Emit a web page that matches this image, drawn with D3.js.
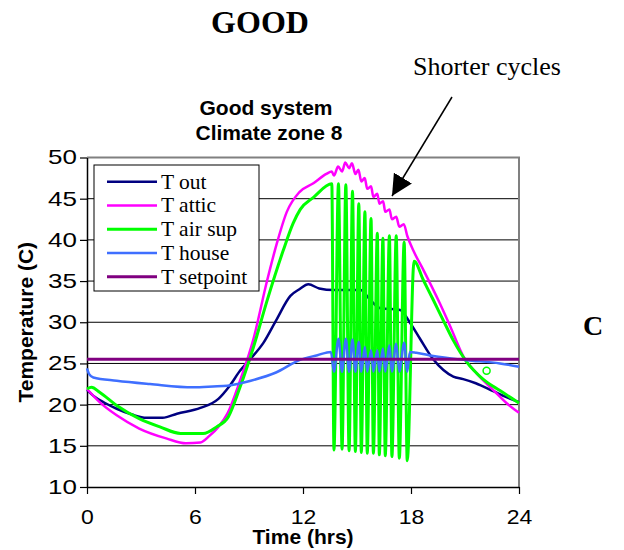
<!DOCTYPE html>
<html>
<head>
<meta charset="utf-8">
<script src="https://cdn.jsdelivr.net/npm/d3@7"></script>
<style>
  body { margin: 0; background: #fff; }
  svg { display: block; }
</style>
</head>
<body>
<svg id="chart" width="624" height="550"></svg>
<script>
// Hourly temperature traces, [hour, °C]
const tOut = [[0,21.8],[0.4,21.0],[1.0,20.2],[1.65,19.5],[2.5,18.8],[3.3,18.4],[4.2,18.4],[5.0,18.9],[6.3,19.6],[7.3,20.7],[7.9,22.2],[8.5,24.1],[9.06,25.5],[9.8,27.5],[10.5,30.2],[11.3,33.2],[11.8,34.0],[12.3,34.6],[12.9,34.1],[13.7,33.9],[15.2,33.9],[15.7,32.8],[16.3,31.7],[17.4,31.5],[17.9,30.1],[18.5,28.0],[19.2,25.6],[19.8,24.2],[20.35,23.4],[20.9,23.1],[21.6,22.6],[22.6,21.6],[23.3,20.9],[24,20.3]];

const tAttic = [[0,21.9],[0.7,20.3],[1.65,18.7],[2.9,17.1],[4.4,15.9],[5.5,15.3],[6.3,15.4],[6.8,16.2],[7.3,17.3],[7.8,18.9],[8.5,22.9],[9.25,28.0],[10.0,35.0],[10.55,39.6],[11.1,43.4],[11.8,45.8],[12.6,46.9],[13.3,48.0],[13.6,48.3],
  [13.72,47.8],[13.95,48.9],[14.17,48.3],[14.35,49.4],[14.56,48.7],[14.72,49.3],[14.91,48.0],[15.08,48.5],[15.24,47.1],[15.43,47.5],[15.57,46.2],[15.78,46.5],[15.91,45.2],[16.13,45.6],[16.24,44.4],[16.45,44.7],[16.57,43.4],[16.8,43.7],[16.94,42.5],[17.18,42.8],[17.35,41.6],[17.6,41.9],[17.79,40.5],
  [18.13,38.7],[18.7,36.3],[19.6,32.3],[20.2,29.4],[20.9,25.9],[21.65,23.8],[22.6,21.7],[23.3,20.2],[24,19.0]];

const tAirSup = [[0,21.9],[0.25,22.1],[0.7,21.5],[1.65,19.9],[2.9,18.3],[4.05,17.3],[5.2,16.5],[6.45,16.5],[7.2,17.3],[7.85,18.5],[8.5,22.1],[9.25,27.0],[10.0,32.6],[10.9,38.7],[11.45,42.0],[11.85,43.7],[12.6,45.2],[13.6,46.8],
  [13.72,14.5],[13.97,46.8],[14.17,14.6],[14.38,46.7],[14.56,14.4],[14.75,45.9],[14.91,14.3],[15.1,44.4],[15.24,14.2],[15.44,43.4],[15.57,14.1],[15.78,42.6],[15.91,14.1],[16.13,40.8],[16.24,13.9],[16.44,40.2],[16.57,13.8],[16.8,40.5],[16.94,13.7],[17.18,40.5],[17.35,13.5],[17.62,39.7],[17.79,13.2],
  [18.17,37.4],[18.69,35.1],[19.24,32.7],[19.8,30.2],[20.35,27.8],[21.09,25.2],[22.0,23.1],[22.94,21.7],[24,20.2]];

const tAirSupMarker = [[22.2,24.1]];

const tHouse = [[0,24.4],[0.12,23.7],[0.35,23.3],[1.65,22.9],[3.5,22.5],[5.9,22.1],[7.0,22.2],[7.8,22.3],[9.1,22.9],[10.5,23.9],[11.8,25.4],[12.8,26.0],[13.55,26.4],
  [13.72,24.0],[13.97,28.0],[14.17,24.0],[14.38,28.0],[14.56,24.0],[14.75,27.9],[14.91,24.0],[15.1,27.6],[15.24,24.0],[15.44,27.0],[15.57,24.0],[15.78,26.6],[15.91,24.0],[16.13,26.6],[16.24,24.0],[16.44,26.8],[16.57,24.0],[16.8,27.2],[16.94,24.0],[17.18,27.4],[17.35,24.0],[17.62,27.5],[17.79,24.0],
  [17.94,26.4],[18.3,26.3],[19.24,25.9],[21.09,25.4],[22.94,25.0],[24,24.6]];

const tSetpoint = [[0,25.5],[24,25.5]];

const seriesNames = ["T out", "T attic", "T air sup", "T house", "T setpoint"];
const seriesColors = ["#000080", "#ff00ff", "#00ff00", "#3f6fff", "#800080"];
const seriesWidths = [2.5, 2.5, 3, 2.5, 3];
const seriesData = [tOut, tAttic, tAirSup, tHouse, tSetpoint];

const hourTicks = [0, 6, 12, 18, 24];
const tempTicks = [10, 15, 20, 25, 30, 35, 40, 45, 50];

const svg = d3.select("#chart");
const x = d3.scaleLinear().domain([0, 24]).range([87, 519]);
const y = d3.scaleLinear().domain([10, 50]).range([487, 157.5]);

// horizontal gridlines
svg.append("g")
  .selectAll("line")
  .data(tempTicks.filter(d => d > 10 && d < 50))
  .join("line")
  .attr("x1", x(0)).attr("x2", x(24))
  .attr("y1", d => y(d)).attr("y2", d => y(d))
  .attr("stroke", "#000").attr("stroke-width", 1);

// plot frame (top and right)
svg.append("path")
  .attr("d", `M${x(0)},${y(50)}H${x(24)}V${y(10)}`)
  .attr("fill", "none").attr("stroke", "#808080").attr("stroke-width", 2);

// axes
const yAxis = svg.append("g")
  .attr("transform", `translate(${x(0)},0)`)
  .call(d3.axisLeft(y).tickValues(tempTicks).tickSize(7).tickSizeOuter(0).tickPadding(9));
const xAxis = svg.append("g")
  .attr("transform", `translate(0,${y(10)})`)
  .call(d3.axisBottom(x).tickValues(hourTicks).tickSize(7).tickSizeOuter(0).tickPadding(16));

[yAxis, xAxis].forEach(g => {
  g.select(".domain").attr("stroke", "#000").attr("stroke-width", 1.5);
  g.selectAll(".tick line").attr("stroke", "#000").attr("stroke-width", 1.2);
  g.selectAll("text")
    .attr("font-family", "'Liberation Sans', Arial, sans-serif")
    .attr("font-size", 20)
    .attr("fill", "#000");
});
// slightly widened tick numerals
yAxis.selectAll("text").attr("x", -10 / 1.3).attr("transform", "scale(1.3,1)");
xAxis.selectAll("text").attr("transform", "scale(1.15,1)");

// series lines
const line = d3.line().x(d => x(d[0])).y(d => y(d[1])).curve(d3.curveMonotoneX);
const plot = svg.append("g");
seriesData.forEach((data, i) => {
  plot.append("path")
    .datum(data)
    .attr("d", line)
    .attr("fill", "none")
    .attr("stroke", seriesColors[i])
    .attr("stroke-width", seriesWidths[i])
    .attr("stroke-linejoin", "round");
});

// stray air supply marker
plot.selectAll("circle.marker")
  .data(tAirSupMarker)
  .join("circle")
  .attr("class", "marker")
  .attr("cx", d => x(d[0])).attr("cy", d => y(d[1]))
  .attr("r", 3.5)
  .attr("fill", "#fff").attr("stroke", "#00ff00").attr("stroke-width", 1.5);

// legend
const legend = svg.append("g");
legend.append("rect")
  .attr("x", 94).attr("y", 165).attr("width", 165).attr("height", 126)
  .attr("fill", "#fff").attr("stroke", "#000").attr("stroke-width", 1);
seriesNames.forEach((name, i) => {
  const ry = 181.7 + i * 23.75;
  legend.append("line")
    .attr("x1", 107).attr("x2", 157).attr("y1", ry).attr("y2", ry)
    .attr("stroke", seriesColors[i]).attr("stroke-width", seriesWidths[i]);
  legend.append("text")
    .attr("x", 161).attr("y", ry + 7)
    .attr("font-family", "'Liberation Serif', 'Times New Roman', serif")
    .attr("font-size", 21.5)
    .text(name);
});

// titles and labels
svg.append("text")
  .attr("x", 260).attr("y", 33).attr("text-anchor", "middle")
  .attr("font-family", "'Liberation Serif', 'Times New Roman', serif")
  .attr("font-weight", "bold").attr("font-size", 32)
  .text("GOOD");

svg.append("text")
  .attr("x", 266).attr("y", 115).attr("text-anchor", "middle")
  .attr("font-family", "'Liberation Sans', Arial, sans-serif")
  .attr("font-weight", "bold").attr("font-size", 21)
  .text("Good system");
svg.append("text")
  .attr("x", 269).attr("y", 140).attr("text-anchor", "middle")
  .attr("font-family", "'Liberation Sans', Arial, sans-serif")
  .attr("font-weight", "bold").attr("font-size", 21)
  .text("Climate zone 8");

svg.append("text")
  .attr("x", 303).attr("y", 544).attr("text-anchor", "middle")
  .attr("font-family", "'Liberation Sans', Arial, sans-serif")
  .attr("font-weight", "bold").attr("font-size", 21)
  .text("Time (hrs)");

svg.append("text")
  .attr("transform", `translate(33,${(y(10) + y(50)) / 2}) rotate(-90)`)
  .attr("text-anchor", "middle")
  .attr("font-family", "'Liberation Sans', Arial, sans-serif")
  .attr("font-weight", "bold").attr("font-size", 21)
  .text("Temperature (C)");

svg.append("text")
  .attr("x", 487).attr("y", 75).attr("text-anchor", "middle")
  .attr("font-family", "'Liberation Serif', 'Times New Roman', serif")
  .attr("font-size", 26)
  .text("Shorter cycles");

svg.append("text")
  .attr("x", 593).attr("y", 335).attr("text-anchor", "middle")
  .attr("font-family", "'Liberation Serif', 'Times New Roman', serif")
  .attr("font-weight", "bold").attr("font-size", 28)
  .text("C");

// annotation arrow
svg.append("defs").append("marker")
  .attr("id", "arrowhead")
  .attr("viewBox", "0 0 10 10")
  .attr("refX", 10).attr("refY", 5)
  .attr("markerWidth", 21).attr("markerHeight", 21)
  .attr("markerUnits", "userSpaceOnUse")
  .attr("orient", "auto")
  .append("path").attr("d", "M0,0L10,5L0,10Z").attr("fill", "#000");
svg.append("line")
  .attr("x1", 452).attr("y1", 97).attr("x2", 392).attr("y2", 196)
  .attr("stroke", "#000").attr("stroke-width", 1.5)
  .attr("marker-end", "url(#arrowhead)");
</script>
</body>
</html>
